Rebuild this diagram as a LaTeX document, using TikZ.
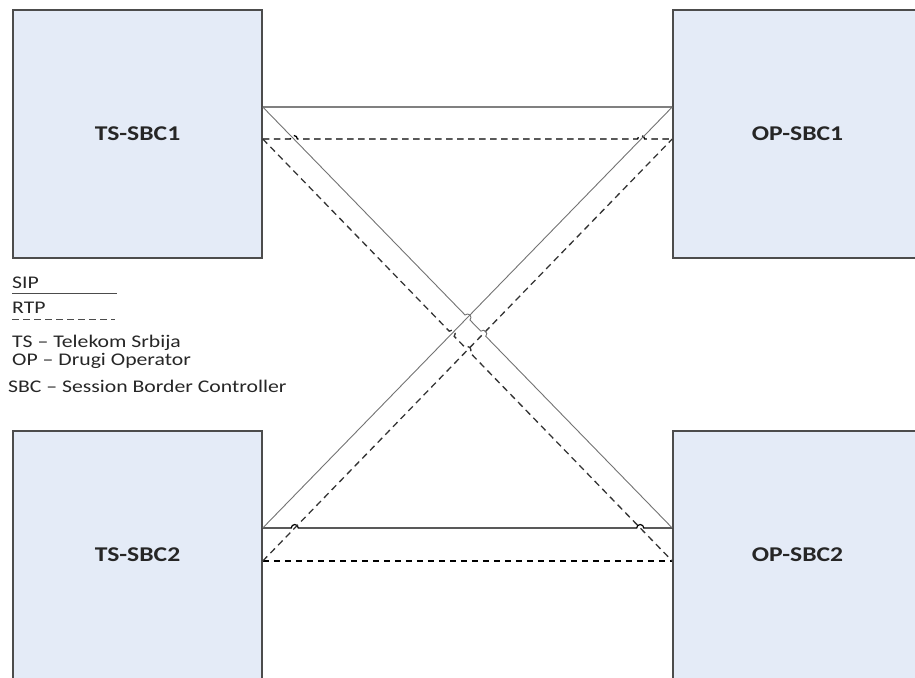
\documentclass[tikz,border=0pt]{standalone}
\usepackage{fontspec}
\setmainfont[FakeStretch=1.22]{Carlito}
\usetikzlibrary{calc,intersections}

\definecolor{boxfill}{RGB}{228,235,247}
\newcommand{\hopr}{3.5pt}
% line from #2 to #3 that jumps over the points listed in #4
\newcommand{\hopline}[4]{%
  \draw[#1] let \p1=($(#3)-(#2)$), \n1={atan2(\y1,\x1)} in (#2)
    \foreach \k in {#4} {-- ($(\k)!\hopr!(#2)$) arc[start angle=\n1+180, end angle=\n1, radius=\hopr]}
    -- (#3);
}

\begin{document}
\begin{tikzpicture}[x=1pt,y=1pt,
    sbc/.style={draw=black!70, line width=1.5pt, fill=boxfill, minimum width=249pt,
      minimum height=248pt, inner sep=0pt, text=black!85,
      font=\fontsize{21}{24}\selectfont\bfseries},
    sip/.style={draw=black!55, line width=0.9pt},
    rtp/.style={draw=black, line width=1.3pt, dash pattern=on 6.5pt off 4.5pt},
    legend/.style={anchor=base west, inner sep=0pt, text=black!85,
      font=\fontsize{17.8}{20}\selectfont}]
   \useasboundingbox (0,0) rectangle (915,677);
   \clip (0,0) rectangle (915,677);
   \node[sbc] (ts1) at (137.5,543) {TS-SBC1};
   \node[sbc] (op1) at (797.5,543) {OP-SBC1};
   \node[sbc] (ts2) at (137.5,122) {TS-SBC2};
   \node[sbc] (op2) at (797.5,122) {OP-SBC2};
   % ports: s = SIP, r = RTP
   \coordinate (ts1s) at ([yshift=27pt]ts1.east);
   \coordinate (ts1r) at ([yshift=-5pt]ts1.east);
   \coordinate (op1s) at ([yshift=27pt]op1.west);
   \coordinate (op1r) at ([yshift=-5pt]op1.west);
   \coordinate (ts2s) at ([yshift=27pt]ts2.east);
   \coordinate (ts2r) at ([yshift=-6pt]ts2.east);
   \coordinate (op2s) at ([yshift=27pt]op2.west);
   \coordinate (op2r) at ([yshift=-6pt]op2.west);
   % crossings
   \path[name path=h1] (ts1r) -- (op1r);
   \path[name path=h2] (ts2s) -- (op2s);
   \path[name path=d1] (ts1s) -- (op2s);
   \path[name path=d2] (ts1r) -- (op2r);
   \path[name path=u1] (ts2s) -- (op1s);
   \path[name path=u2] (ts2r) -- (op1r);
   \path[name intersections={of=h1 and d1, by=c1}];
   \path[name intersections={of=h1 and u1, by=c2}];
   \path[name intersections={of=h2 and u2, by=c3}];
   \path[name intersections={of=h2 and d2, by=c4}];
   \path[name intersections={of=d1 and u1, by=c5}];
   \path[name intersections={of=d1 and u2, by=c6}];
   \path[name intersections={of=d2 and u1, by=c7}];
   \path[name intersections={of=d2 and u2, by=c8}];
   % links
   \draw[sip, draw=black!50, line width=1.8pt] (ts1s) -- (op1s);
   \hopline{rtp}{ts1r}{op1r}{c1,c2}
   \hopline{sip, draw=black, line width=1.2pt}{ts2s}{op2s}{c3,c4}
   \draw[rtp] (ts2r) -- (op2r);
   \draw[sip] (ts2s) -- (op1s);
   \draw[rtp, draw=black!80] (ts2r) -- (op1r);
   \hopline{sip}{ts1s}{op2s}{c5,c6}
   \hopline{rtp, draw=black!80}{ts1r}{op2r}{c7,c8}
   % legend
   \node[legend] (lsip) at (12,388.5) {SIP};
   \draw[draw=black!70, line width=1.4pt] ([yshift=-4.5pt]lsip.south west) -- ++(105,0);
   \node[legend] (lrtp) at (12,363.5) {RTP};
   \draw[rtp, draw=black!70] ([yshift=-5.5pt]lrtp.south west) -- ++(103,0);
   \node[legend] (lts) at (12,329.5) {TS – Telekom Srbija};
   \node[legend] (lop) at (12,311.5) {OP – Drugi Operator};
   \node[legend] (lsbc) at (8,284.5) {SBC – Session Border Controller};
\end{tikzpicture}
\end{document}
